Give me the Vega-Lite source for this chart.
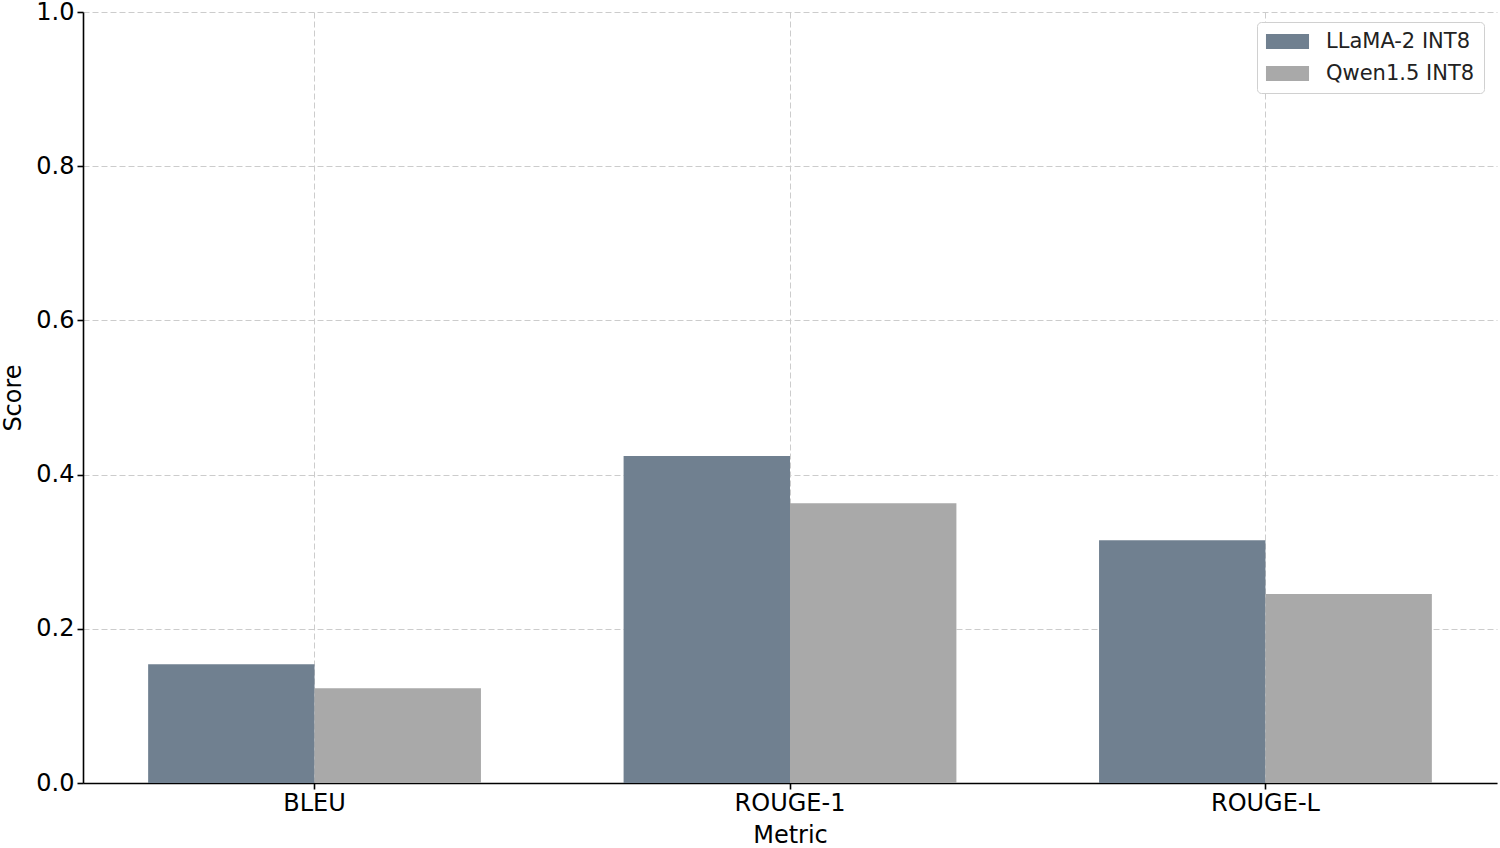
{
  "$schema": "https://vega.github.io/schema/vega-lite/v6.json",
  "width": 1414,
  "height": 771,
  "autosize": {"type": "none"},
  "padding": {"left": 83, "top": 12, "right": 3, "bottom": 65},
  "background": "white",
  "config": {
    "font": "DejaVu Sans",
    "view": {"stroke": null},
    "axis": {
      "labelFont": "DejaVu Sans",
      "titleFont": "DejaVu Sans",
      "labelFontSize": 24,
      "titleFontSize": 24,
      "titleFontWeight": "normal",
      "labelColor": "black",
      "titleColor": "black",
      "domainColor": "black",
      "domainWidth": 1.6,
      "tickColor": "black",
      "tickWidth": 1.6,
      "tickSize": 6,
      "gridColor": "#cccccc",
      "gridDash": [6, 3],
      "gridWidth": 1,
      "zindex": 1
    }
  },
  "data": {
    "values": [
      {"Metric": "BLEU", "Model": "LLaMA-2 INT8", "Score": 0.154},
      {"Metric": "BLEU", "Model": "Qwen1.5 INT8", "Score": 0.123},
      {"Metric": "ROUGE-1", "Model": "LLaMA-2 INT8", "Score": 0.424},
      {"Metric": "ROUGE-1", "Model": "Qwen1.5 INT8", "Score": 0.363},
      {"Metric": "ROUGE-L", "Model": "LLaMA-2 INT8", "Score": 0.315},
      {"Metric": "ROUGE-L", "Model": "Qwen1.5 INT8", "Score": 0.245}
    ]
  },
  "mark": {"type": "bar"},
  "encoding": {
    "x": {
      "field": "Metric",
      "type": "nominal",
      "sort": ["BLEU", "ROUGE-1", "ROUGE-L"],
      "scale": {"paddingInner": 0.3, "paddingOuter": 0.137},
      "axis": {
        "title": "Metric",
        "labelAngle": 0,
        "grid": true,
        "labelPadding": 2,
        "titlePadding": 8
      }
    },
    "xOffset": {"field": "Model", "type": "nominal", "scale": {"paddingInner": 0, "paddingOuter": 0}},
    "y": {
      "field": "Score",
      "type": "quantitative",
      "scale": {"domain": [0, 1], "nice": false, "zero": true},
      "axis": {
        "title": "Score",
        "values": [0, 0.2, 0.4, 0.6, 0.8, 1.0],
        "format": ".1f",
        "grid": true,
        "labelPadding": 3,
        "titlePadding": 10
      }
    },
    "color": {
      "field": "Model",
      "type": "nominal",
      "scale": {"domain": ["LLaMA-2 INT8", "Qwen1.5 INT8"], "range": ["#708090", "#a9a9a9"]},
      "legend": {
        "title": null,
        "orient": "none",
        "legendX": 1174,
        "legendY": 10,
        "symbolType": "M-2.87,-1L2.87,-1L2.87,1L-2.87,1Z",
        "symbolSize": 225,
        "symbolOffset": 11,
        "symbolStrokeWidth": 0,
        "symbolOpacity": 1,
        "labelFont": "DejaVu Sans",
        "labelFontSize": 21,
        "labelColor": "#222222",
        "labelOffset": 28,
        "rowPadding": 10,
        "padding": 9,
        "fillColor": "white",
        "strokeColor": "#d0d0d0",
        "cornerRadius": 4
      }
    }
  }
}
